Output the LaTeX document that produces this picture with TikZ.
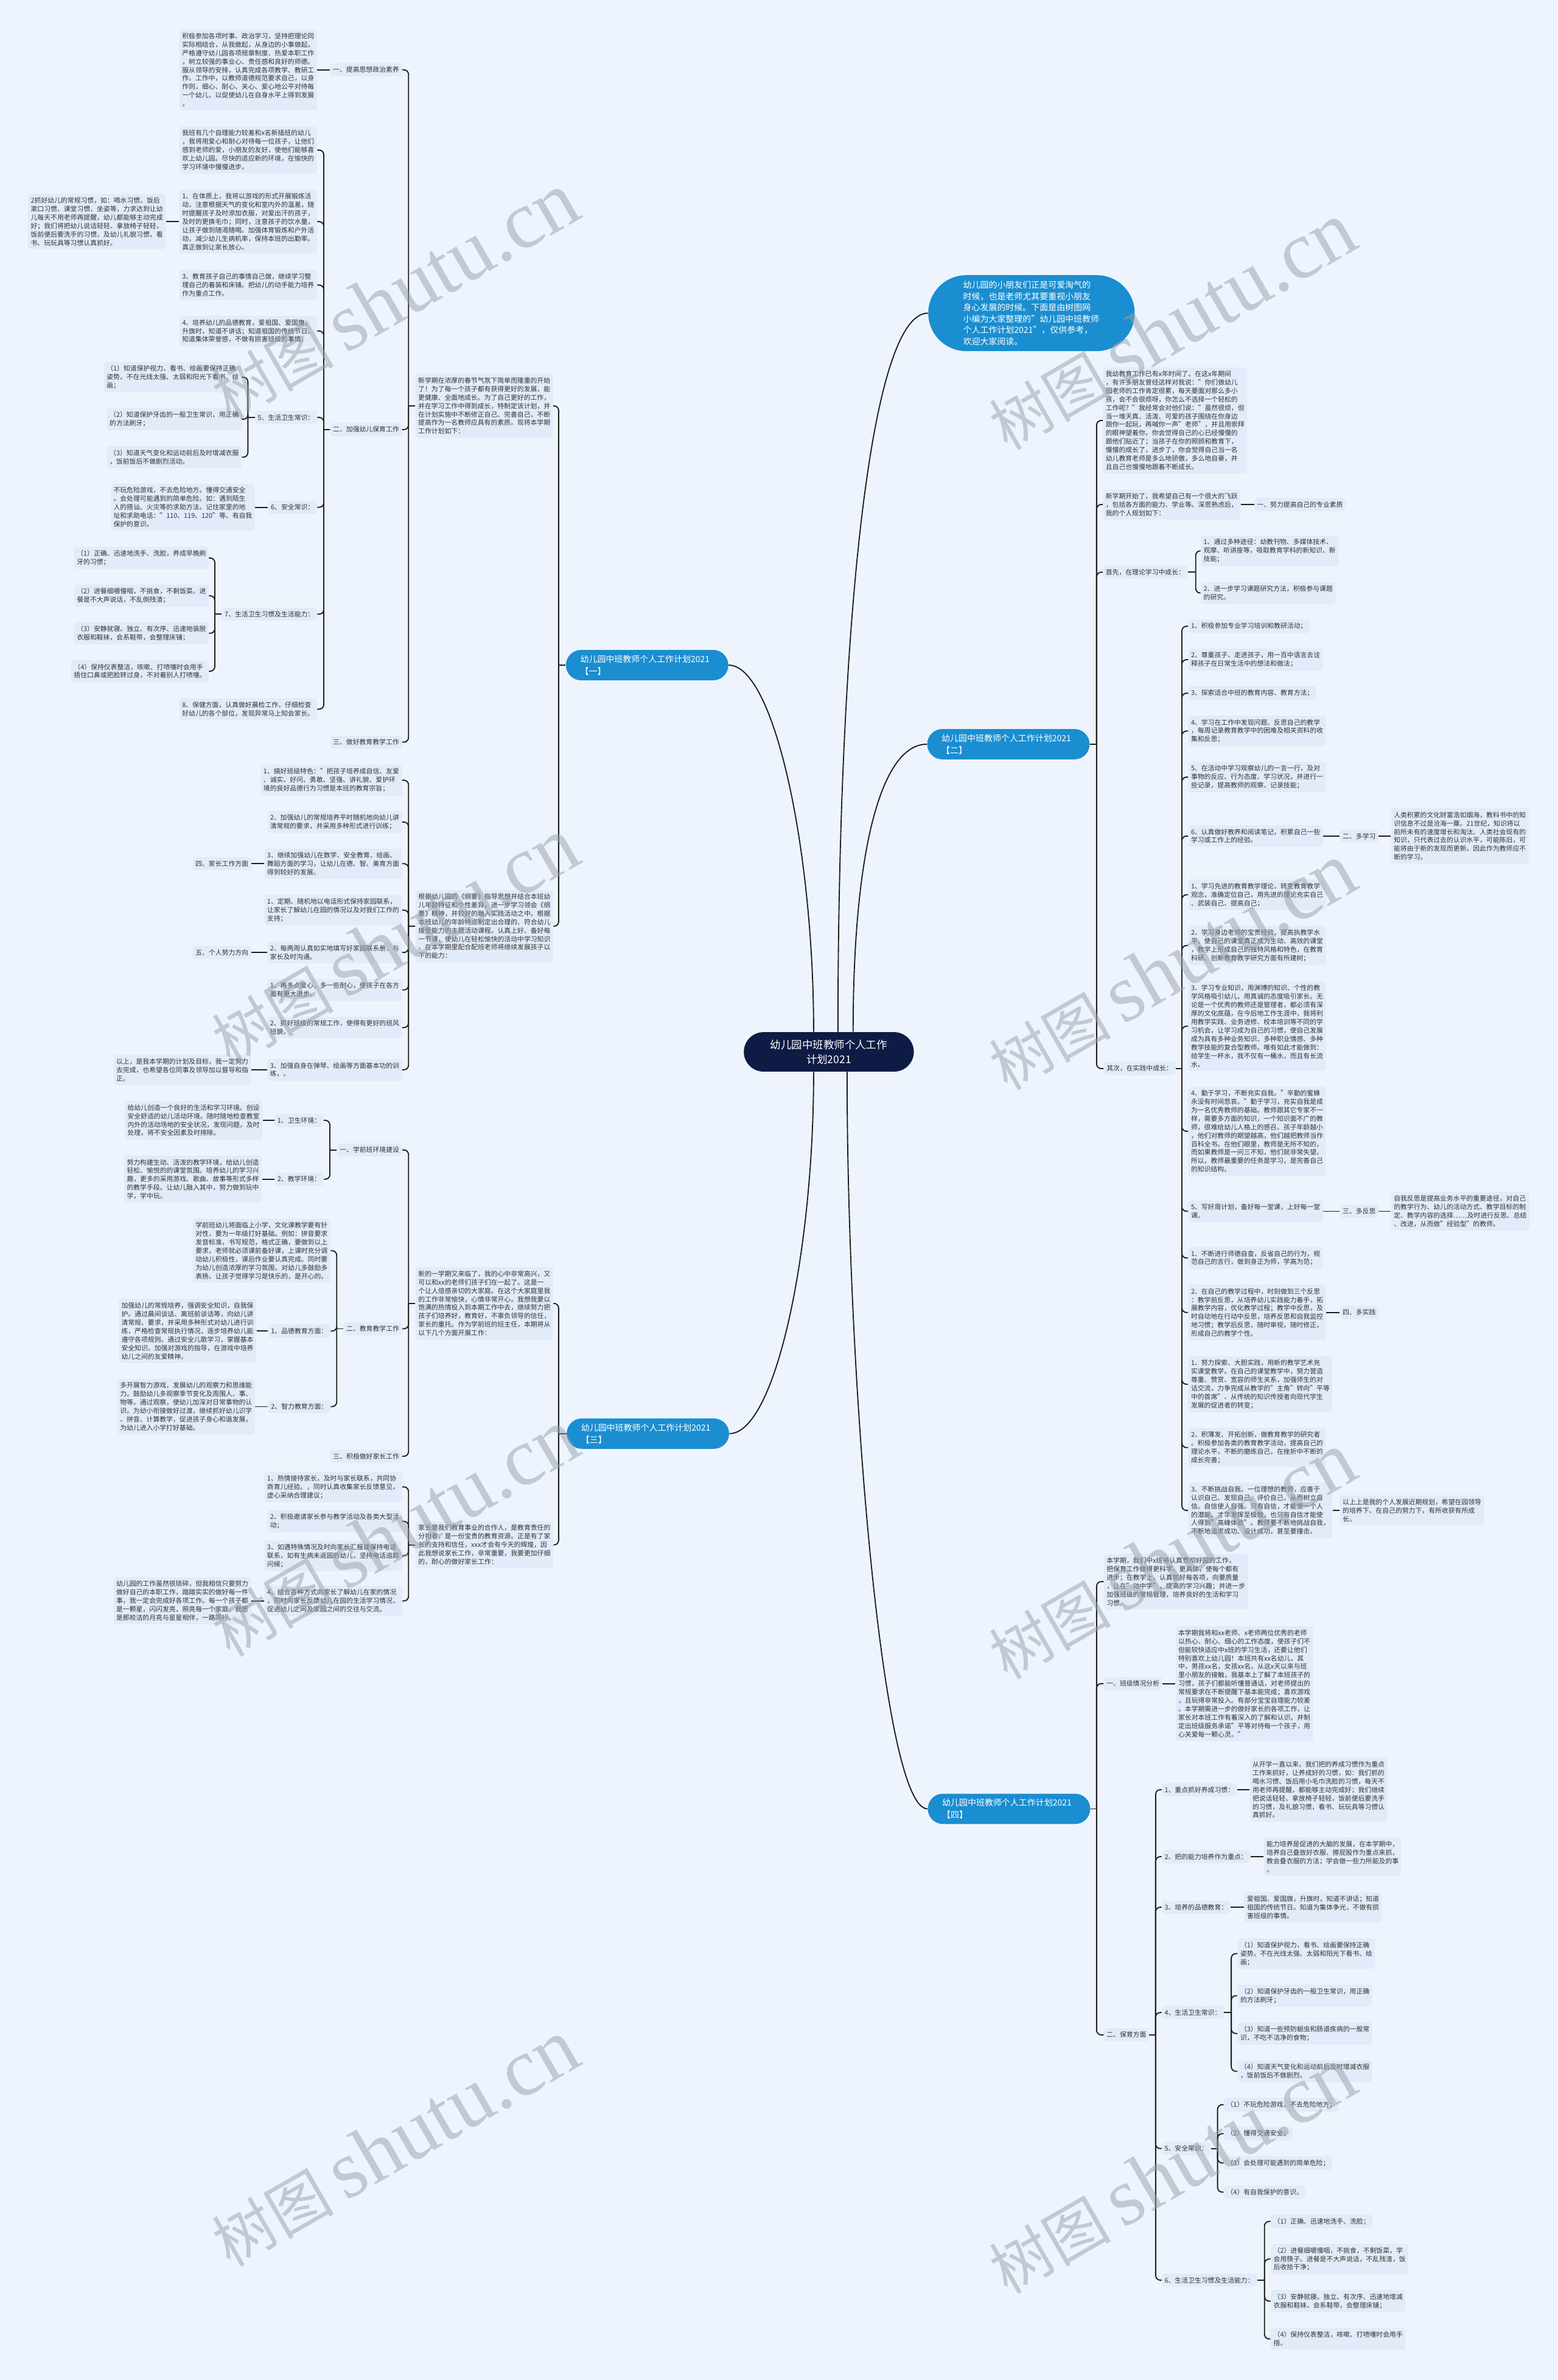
\documentclass[tikz,border=0pt]{standalone}
\usepackage{fontspec}
\setmainfont{Noto Sans CJK SC}
\newfontfamily\wmserif{Liberation Serif}
\usetikzlibrary{calc}
\definecolor{bgc}{HTML}{EEF4FD}
\definecolor{boxc}{HTML}{E2EBF9}
\definecolor{txtc}{HTML}{333333}
\definecolor{linec}{HTML}{1E1E1E}
\definecolor{bluec}{HTML}{1A8ED0}
\definecolor{navyc}{HTML}{0E1B45}
\definecolor{wmc}{HTML}{9AA0AA}
\newcommand\conL[3]{%
 \draw[conn] let \p1=(#1.west) in (\p1) -- (#2pt,\y1);
 \draw[conn,rounded corners=3pt] let \p1=(#1.west), \p2=(#3.east) in (#2pt,\y1) |- (\p2);}
\newcommand\conR[3]{%
 \draw[conn] let \p1=(#1.east) in (\p1) -- (#2pt,\y1);
 \draw[conn,rounded corners=3pt] let \p1=(#1.east), \p2=(#3.west) in (#2pt,\y1) |- (\p2);}
\begin{document}
\begin{tikzpicture}[x=1pt,y=-1pt,
 leaf/.style={fill=boxc, rounded corners=1.8pt, inner xsep=1.8pt, inner ysep=2.3pt, font=\fontsize{4.35}{5.58}\selectfont, text=txtc, align=left},
 L/.style={leaf, anchor=east},
 R/.style={leaf, anchor=west},
 conn/.style={draw=linec, line width=0.75pt},
 br/.style={fill=bluec, text=white, rounded corners=10pt, font=\fontsize{5.6}{8}\selectfont, text width=88pt, align=left, inner xsep=9.5pt, inner ysep=0pt, minimum height=20pt},
 ctrs/.style={fill=navyc, text=white, rounded corners=13pt, font=\fontsize{7}{9.5}\selectfont, align=center, minimum width=112pt, minimum height=26pt, inner sep=2pt},
 intro/.style={fill=bluec, text=white, rounded corners=25pt, font=\fontsize{5.6}{7.42}\selectfont, text width=90pt, align=left, inner xsep=23pt, minimum height=50pt},
 wm/.style={text=wmc, opacity=0.5, rotate=30, inner sep=0pt}
]
\fill[bgc] (0,0) rectangle (1026,1568);
\useasboundingbox (0,0) rectangle (1026,1568);

% ---------- centre and branches ----------
\node[ctrs] (ctr) at (546,693) {幼儿园中班教师个人工作\\计划2021};
\node[intro] (intro) at (679.5,206.3) {幼儿园的小朋友们正是可爱淘气的\\时候，也是老师尤其要重视小朋友\\身心发展的时候。下面是由树图网\\小编为大家整理的"幼儿园中班教师\\个人工作计划2021"，仅供参考，\\欢迎大家阅读。};
\node[br] (br1) at (426.3,438.2) {幼儿园中班教师个人工作计划2021\\【一】};
\node[br] (br2) at (664.3,490.3) {幼儿园中班教师个人工作计划2021\\【二】};
\node[br] (br3) at (426.8,944.5) {幼儿园中班教师个人工作计划2021\\【三】};
\node[br] (br4) at (664.7,1191.7) {幼儿园中班教师个人工作计划2021\\【四】};

\draw[conn] (br1.east) .. controls +(30,0) and +(0,-120) .. ([xshift=-10pt]ctr.north);
\draw[conn] (intro.west) .. controls +(-40,0) and +(0,-250) .. ([xshift=6pt]ctr.north);
\draw[conn] (br2.west) .. controls +(-30,0) and +(0,-120) .. ([xshift=16pt]ctr.north);
\draw[conn] (br3.east) .. controls +(30,0) and +(0,120) .. ([xshift=-10pt]ctr.south);
\draw[conn] (br4.west) .. controls +(-30,0) and +(0,200) .. ([xshift=12pt]ctr.south);

% ---------- branch 1 ----------
\node[L] (n1a) at (364.5,267.4) {新学期在浓厚的春节气氛下简单而隆重的开始\\了！为了每一个孩子都有获得更好的发展，能\\更健康、全面地成长。为了自己更好的工作，\\并在学习工作中得到成长，特制定该计划，并\\在计划实施中不断修正自己、完善自己，不断\\提高作为一名教师应具有的素质。现将本学期\\工作计划如下：};
\node[L] (n1b) at (364.6,610.2) {根据幼儿园的《纲要》指导思想并结合本班幼\\儿年龄特征和个性差异，进一步学习领会《纲\\要》精神，并较好的融入实践活动之中。根据\\本班幼儿的年龄特点制定出合理的、符合幼儿\\接受能力的主题活动课程。认真上好、备好每\\一节课，使幼儿在轻松愉快的活动中学习知识\\。在本学期里配合配班老师将继续发展孩子以\\下的能力：};
\node[L] (a1) at (264.9,46) {一、提高思想政治素养};
\node[L] (a1c) at (209,46) {积极参加各项时事、政治学习，坚持把理论同\\实际相结合，从我做起，从身边的小事做起，\\严格遵守幼儿园各项规章制度、热爱本职工作\\，树立较强的事业心、责任感和良好的师德。\\服从领导的安排，认真完成各项教学、教研工\\作。工作中，以教师道德规范要求自己，以身\\作则，细心、耐心、关心、爱心地公平对待每\\一个幼儿，以促使幼儿在自身水平上得到发展\\。};
\node[L] (a2) at (264.9,283) {二、加强幼儿保育工作};
\node[L] (a3) at (264.9,488.9) {三、做好教育教学工作};
\node[L] (p1) at (209,98.9) {我班有几个自理能力较差和x名新插班的幼儿\\，我将用爱心和耐心对待每一位孩子，让他们\\感到老师的爱，小朋友的友好，使他们能够喜\\欢上幼儿园。尽快的适应新的环境，在愉快的\\学习环境中慢慢进步。};
\node[L] (p2) at (209,146) {1、在体质上，我将以游戏的形式开展锻炼活\\动，注意根据天气的变化和室内外的温差，随\\时提醒孩子及时添加衣服，对爱出汗的孩子，\\及时的更换毛巾；同时，注意孩子的饮水量，\\让孩子做到随渴随喝。加强体育锻炼和户外活\\动，减少幼儿生病机率，保持本班的出勤率。\\真正做到让家长放心。};
\node[L] (p2c) at (109.3,146) {2抓好幼儿的常规习惯，如：喝水习惯、饭后\\漱口习惯、课堂习惯、坐姿等，力求达到让幼\\儿每天不用老师再提醒，幼儿都能够主动完成\\好；我们将把幼儿说话轻轻、拿放椅子轻轻，\\饭前便后要洗手的习惯，及幼儿礼貌习惯，看\\书、玩玩具等习惯认真抓好。};
\node[L] (p3) at (209,187.8) {3、教育孩子自己的事情自己做，继续学习整\\理自己的着装和床铺。把幼儿的动手能力培养\\作为重点工作。};
\node[L] (p4) at (209,218.1) {4、培养幼儿的品德教育，爱祖国、爱国旗，\\升旗时，知道不讲话；知道祖国的传统节日。\\知道集体荣誉感，不做有损害班级的事情。};
\node[L] (p5) at (209,275) {5、生活卫生常识：};
\node[L] (p51) at (159.3,248.5) {（1）知道保护视力，看书、绘画要保持正确\\姿势。不在光线太强、太弱和阳光下看书、绘\\画；};
\node[L] (p52) at (159.3,276.2) {（2）知道保护牙齿的一般卫生常识，用正确\\的方法刷牙；};
\node[L] (p53) at (159.3,301.2) {（3）知道天气变化和运动前后及时增减衣服\\，饭前饭后不做剧烈活动。};
\node[L] (p6) at (209,334.2) {6、安全常识：};
\node[L] (p6c) at (168.1,334.2) {不玩危险游戏，不去危险地方。懂得交通安全\\。会处理可能遇到的简单危险。如：遇到陌生\\人的搭讪、火灾等的求助方法。记住家里的地\\址和求助电话："110、119、120"等。有自我\\保护的意识。};
\node[L] (p7) at (209,404.6) {7、生活卫生习惯及生活能力：};
\node[L] (p71) at (137.7,367.6) {（1）正确、迅速地洗手、洗脸，养成早晚刷\\牙的习惯；};
\node[L] (p72) at (137.7,392.5) {（2）进餐细嚼慢咽，不挑食，不剩饭菜。进\\餐是不大声说话，不乱倒残渣；};
\node[L] (p73) at (137.7,417.2) {（3）安静就寝。独立、有次序、迅速地装脱\\衣服和鞋袜，会系鞋带，会整理床铺；};
\node[L] (p74) at (137.7,442.2) {（4）保持仪表整洁，咳嗽、打喷嚏时会用手\\捂住口鼻或把脸转过身，不对着别人打喷嚏。};
\node[L] (p8) at (209,467.2) {8、保健方面，认真做好晨检工作，仔细检查\\好幼儿的各个部位，发现异常马上知会家长。};
\node[L] (c1) at (265,514) {1、搞好班级特色："把孩子培养成自信、友爱\\、诚实、好问、勇敢、坚强、讲礼貌、爱护环\\境的良好品德行为习惯是本班的教育宗旨；};
\node[L] (c2) at (265,541.6) {2、加强幼儿的常规培养平时随机地向幼儿讲\\清常规的要求，并采用多种形式进行训练；};
\node[L] (c3) at (265,569) {3、继续加强幼儿在数学、安全教育、绘画、\\舞蹈方面的学习，让幼儿在德、智、美育方面\\得到较好的发展。};
\node[L] (c3c) at (165.6,569) {四、家长工作方面};
\node[L] (c4) at (265,599.6) {1、定期、随机地以电话形式保持家园联系，\\让家长了解幼儿在园的情况以及对我们工作的\\支持；};
\node[L] (c5) at (265,627.5) {2、每两周认真如实地填写好家园联系册，与\\家长及时沟通。};
\node[L] (c5c) at (165.6,627.5) {五、个人努力方向};
\node[L] (c6) at (265,652.2) {1、再多点爱心，多一些耐心，使孩子在各方\\面有更大进步。};
\node[L] (c7) at (265,677) {2、抓好班级的常规工作，使得有更好的班风\\班貌。};
\node[L] (c8) at (265,704.8) {3、加强自身在弹琴、绘画等方面基本功的训\\练，。};
\node[L] (c8c) at (165.6,704.8) {以上，是我本学期的计划及目标，我一定努力\\去完成，也希望各位同事及领导加以督导和指\\正。};

\conL{br1}{368}{n1a} \conL{br1}{368}{n1b}
\conL{n1a}{269.1}{a1} \conL{n1a}{269.1}{a2} \conL{n1a}{269.1}{a3}
\draw[conn] (a1.west) -- (a1c.east);
\foreach \k in {p1,p2,p3,p4,p5,p6,p7,p8} {\conL{a2}{213.3}{\k}}
\draw[conn] (p2.west) -- (p2c.east);
\foreach \k in {p51,p52,p53} {\conL{p5}{163.3}{\k}}
\draw[conn] (p6.west) -- (p6c.east);
\foreach \k in {p71,p72,p73,p74} {\conL{p7}{141.5}{\k}}
\foreach \k in {c1,c2,c3,c4,c5,c6,c7,c8} {\conL{n1b}{269.1}{\k}}
\draw[conn] (c3.west) -- (c3c.east);
\draw[conn] (c5.west) -- (c5c.east);
\draw[conn] (c8.west) -- (c8c.east);

% ---------- branch 3 ----------
\node[L] (n3a) at (364.6,858.7) {新的一学期又来临了，我的心中非常高兴，又\\可以和xx的老师们孩子们在一起了。这是一\\个让人倍感亲切的大家庭。在这个大家庭里我\\的工作非常愉快，心情非常开心。我想我要以\\饱满的热情投入到本期工作中去，继续努力把\\孩子们培养好，教育好，不辜负领导的信任，\\家长的重托。作为学前班的班主任，本期将从\\以下几个方面开展工作：};
\node[L] (n3b) at (364.6,1017.8) {家长是我们教育事业的合作人，是教育责任的\\分担者，是一份宝贵的教育资源。正是有了家\\长的支持和信任，xxx才会有今天的辉煌，因\\此我想说家长工作，非常重要，我要更加仔细\\的，耐心的做好家长工作：};
\node[L] (d1) at (265,757.6) {一、学前班环境建设};
\node[L] (d11) at (213.3,738.1) {1、卫生环境：};
\node[L] (d11c) at (173,738.1) {给幼儿创造一个良好的生活和学习环境。创设\\安全舒适的幼儿活动环境。随时随地检查教室\\内外的活动场地的安全状况，发现问题，及时\\处理，将不安全因素及时排除。};
\node[L] (d12) at (213.3,776.9) {2、教学环境：};
\node[L] (d12c) at (172.6,776.9) {努力构建生动、活泼的教学环境，给幼儿创造\\轻松、愉悦的的课堂氛围。培养幼儿的学习兴\\趣，更多的采用游戏、歌曲、故事等形式多样\\的教学手段。让幼儿融入其中，努力做到玩中\\学，学中玩。};
\node[L] (d2) at (265,875.4) {二、教育教学工作};
\node[L] (d21) at (217.8,824) {学前班幼儿将面临上小学，文化课教学要有针\\对性，要为一年级打好基础。例如：拼音要求\\发音标准，书写规范，格式正确，要做到以上\\要求，老师就必须课前备好课，上课时充分调\\动幼儿积极性，课后作业要认真完成。同时要\\为幼儿创造浓厚的学习氛围，对幼儿多鼓励多\\表扬，让孩子觉得学习是快乐的，是开心的。};
\node[L] (d22) at (217.8,876.9) {1、品德教育方面：};
\node[L] (d22c) at (169,876.9) {加强幼儿的常规培养，强调安全知识，自我保\\护。通过晨间谈话、离班前谈话等，向幼儿讲\\清常规、要求，并采用多种形式对幼儿进行训\\练，严格检查常规执行情况，逐步培养幼儿能\\遵守各项规则。通过安全儿歌学习，掌握基本\\安全知识。加强对游戏的指导，在游戏中培养\\幼儿之间的友爱精神。};
\node[L] (d23) at (217.8,926.7) {2、智力教育方面：};
\node[L] (d23c) at (168.1,926.7) {多开展智力游戏，发展幼儿的观察力和思维能\\力。鼓励幼儿多观察季节变化及周围人、事、\\物等。通过观察，使幼儿加深对日常事物的认\\识。为幼小衔接做好过渡，继续抓好幼儿识字\\、拼音、计算教学，促进孩子身心和谐发展，\\为幼儿进入小学打好基础。};
\node[L] (d3) at (265,959.4) {三、积极做好家长工作};
\node[L] (e1) at (265,979.6) {1、热情接待家长，及时与家长联系，共同协\\商育儿经验。，同时认真收集家长反馈意见，\\虚心采纳合理建议；};
\node[L] (e2) at (265,1002.3) {2、积极邀请家长参与教学活动及各类大型活\\动；};
\node[L] (e3) at (265,1025) {3、如遇特殊情况及时向家长汇报或保持电话\\联系，如有生病未返园的幼儿，坚持电话追踪\\问候；};
\node[L] (e4) at (265,1054.7) {4、结合各种方式向家长了解幼儿在家的情况\\，同时向家长反馈幼儿在园的生活学习情况，\\促进幼儿之间及家园之间的交往与交流。};
\node[L] (e4c) at (165.6,1054.7) {幼儿园的工作虽然很琐碎，但我相信只要努力\\做好自己的本职工作，踏踏实实的做好每一件\\事，我一定会完成好各项工作。每一个孩子都\\是一颗星，闪闪发亮，照亮每一个家庭，我愿\\是那皎洁的月亮与星星相伴，一路同行。};

\conL{br3}{368}{n3a} \conL{br3}{368}{n3b}
\conL{n3a}{269.1}{d1} \conL{n3a}{269.1}{d2} \conL{n3a}{269.1}{d3}
\conL{d1}{217.3}{d11} \conL{d1}{217.3}{d12}
\draw[conn] (d11.west) -- (d11c.east);
\draw[conn] (d12.west) -- (d12c.east);
\conL{d2}{221.8}{d21} \conL{d2}{221.8}{d22} \conL{d2}{221.8}{d23}
\draw[conn] (d22.west) -- (d22c.east);
\draw[conn] (d23.west) -- (d23c.east);
\foreach \k in {e1,e2,e3,e4} {\conL{n3b}{269.1}{\k}}
\draw[conn] (e4.west) -- (e4c.east);

% ---------- branch 2 ----------
\node[R] (f1) at (726.4,277) {我幼教育工作已有x年时间了。在这x年期间\\，有许多朋友曾经这样对我说："你们做幼儿\\园老师的工作肯定很累，每天要面对那么多小\\孩，会不会很烦呀，你怎么不选择一个轻松的\\工作呢？"我经常会对他们说："虽然很烦，但\\当一堆天真、活泼、可爱的孩子围绕在你身边\\跟你一起玩，再喊你一声"老师"，并且用崇拜\\的眼神望着你，你会觉得自己的心已经慢慢的\\跟他们贴近了；当孩子在你的照顾和教育下，\\慢慢的成长了，进步了，你会觉得自己当一名\\幼儿教育老师是多么地骄傲，多么地自豪，并\\且自己也慢慢地跟着不断成长。};
\node[R] (f2) at (726.4,332.4) {新学期开始了，我希望自己有一个很大的飞跃\\，包括各方面的能力、学业等。深思熟虑后，\\我的个人规划如下：};
\node[R] (f2c) at (826.1,332.4) {一、努力提高自己的专业素质};
\node[R] (f3) at (726.4,377) {首先，在理论学习中成长：};
\node[R] (f31) at (790.9,362.9) {1、通过多种途径：幼教刊物、多媒体技术、\\观摩、听讲座等，吸取教育学科的新知识、新\\技能；};
\node[R] (f32) at (790.9,390.7) {2、进一步学习课题研究方法，积极参与课题\\的研究。};
\node[R] (f4) at (727,704) {其次，在实践中成长：};
\node[R] (g1) at (782.6,412.6) {1、积极参加专业学习培训和教研活动；};
\node[R] (g2) at (782.6,434.6) {2、尊重孩子、走进孩子，用一百中语言去诠\\释孩子在日常生活中的想法和做法；};
\node[R] (g3) at (782.6,456.7) {3、探索适合中班的教育内容、教育方法；};
\node[R] (g4) at (782.6,481.6) {4、学习在工作中发现问题、反思自己的教学\\，每周记录教育教学中的困难及相关资料的收\\集和反思；};
\node[R] (g5) at (782.6,512) {5、在活动中学习观察幼儿的一言一行，及对\\事物的反应、行为态度、学习状况，并进行一\\些记录，提高教师的观察、记录技能；};
\node[R] (g6) at (782.6,550.8) {6、认真做好教养和阅读笔记，积累自己一些\\学习或工作上的经验。};
\node[R] (g6c) at (882.5,550.8) {二、多学习};
\node[R] (g6cc) at (916.2,550.8) {人类积累的文化财富浩如烟海，教科书中的知\\识信息不过是沧海一粟。21世纪，知识将以\\前所未有的速度增长和淘汰、人类社会现有的\\知识，只代表过去的认识水平，可能陈旧，可\\能将由于新的发现而更新。因此作为教师应不\\断的学习。};
\node[R] (g7) at (782.6,589.5) {1、学习先进的教育教学理论，转变教育教学\\观念，准确定位自己，用先进的理论充实自己\\、武装自己、提高自己；};
\node[R] (g8) at (782.6,622.9) {2、学习身边老师的宝贵经验，提高执教学水\\平，使自己的课堂真正成为生动、高效的课堂\\，教学上形成自己的独特风格和特色，在教育\\科研、创新教育教学研究方面有所建树；};
\node[R] (g9) at (782.6,676.1) {3、学习专业知识，用渊博的知识、个性的教\\学风格吸引幼儿，用真诚的态度吸引家长。无\\论是一个优秀的教师还是管理者，都必须有深\\厚的文化底蕴，在今后地工作生涯中，我将利\\用教学实践、业务进修、校本培训等不同的学\\习机会，让学习成为自己的习惯，使自己发展\\成为具有多种业务知识、多种职业情感、多种\\教学技能的复合型教师。唯有如此才能做到：\\给学生一杯水，我不仅有一桶水，而且有长流\\水。};
\node[R] (g10) at (782.6,745.3) {4、勤于学习，不断充实自我。"辛勤的蜜蜂\\永没有时间悲哀。"勤于学习，充实自我是成\\为一名优秀教师的基础。教师跟其它专家不一\\样，需要多方面的知识，一个知识面不广的教\\师，很难给幼儿人格上的感召。孩子年龄越小\\，他们对教师的期望越高，他们越把教师当作\\百科全书。在他们眼里，教师是无所不知的，\\而如果教师是一问三不知，他们就非常失望。\\所以，教师最重要的任务是学习，是完善自己\\的知识结构。};
\node[R] (g11) at (782.6,798) {5、写好周计划，备好每一堂课，上好每一堂\\课。};
\node[R] (g11c) at (882.5,798) {三、多反思};
\node[R] (g11cc) at (916.2,798) {自我反思是提高业务水平的重要途径，对自己\\的教学行为、幼儿的活动方式、教学目标的制\\定、教学内容的选择……及时进行反思、总结\\、改进，从而做"经验型"的教师。};
\node[R] (g12) at (782.6,828.8) {1、不断进行师德自查，反省自己的行为，规\\范自己的言行，做到身正为师，学高为范；};
\node[R] (g13) at (782.6,864.7) {2、在自己的教学过程中，时刻做到三个反思\\：教学前反思，从培养幼儿实践能力着手，拓\\展教学内容，优化教学过程；教学中反思，及\\时自动地在行动中反思，培养反思和自我监控\\地习惯；教学后反思，随时审视，随时修正，\\形成自己的教学个性。};
\node[R] (g13c) at (882.5,864.7) {四、多实践};
\node[R] (g14) at (782.6,912) {1、努力探索、大胆实践，用新的教学艺术充\\实课堂教学。在自己的课堂教学中，努力营造\\尊重、赞赏、宽容的师生关系，加强师生的对\\话交流，力争完成从教学的"主角"转向"平等\\中的首席"、从传统的知识传授者向现代学生\\发展的促进者的转变；};
\node[R] (g15) at (782.6,953.7) {2、积薄发、开拓创新，做教育教学的研究者\\。积极参加各类的教育教学活动，提高自己的\\理论水平，不断的磨练自己，在挫折中不断的\\成长完善；};
\node[R] (g16) at (782.6,995.1) {3、不断挑战自我。一位理想的教师，应善于\\认识自己、发现自己、评价自己，从而树立自\\信。自信使人自强。只有自信，才能使一个人\\的潜能、才华发挥至极致，也只有自信才能使\\人得到"高峰体验"。教师要不断地挑战自我，\\不断地追求成功、设计成功，甚至要撞击。};
\node[R] (g16c) at (882.5,995.1) {以上上是我的个人发展近期规划，希望在园领导\\的培养下、在自己的努力下，有所收获有所成\\长。};

\foreach \k in {f1,f2,f3,f4} {\conR{br2}{722.4}{\k}}
\draw[conn] (f2.east) -- (f2c.west);
\conR{f3}{787.7}{f31} \conR{f3}{787.7}{f32}
\foreach \k in {g1,g2,g3,g4,g5,g6,g7,g8,g9,g10,g11,g12,g13,g14,g15,g16} {\conR{f4}{778.6}{\k}}
\draw[conn] (g6.east) -- (g6c.west);
\draw[conn] (g6c.east) -- (g6cc.west);
\draw[conn] (g11.east) -- (g11c.west);
\draw[conn] (g11c.east) -- (g11cc.west);
\draw[conn] (g13.east) -- (g13c.west);
\draw[conn] (g16.east) -- (g16c.west);

% ---------- branch 4 ----------
\node[R] (h1) at (727,1042) {本学期，我们中x班将认真贯彻好园的工作，\\把保育工作做得更科学、更具体，使每个都有\\进步；在教学上，认真抓好每各项，向要质量\\，让在"动中学"，提高的学习兴趣；并进一步\\加强班级的常规管理，培养良好的生活和学习\\习惯。};
\node[R] (h2) at (727,1109.2) {一、班级情况分析};
\node[R] (h2c) at (774.2,1109.2) {本学期我将和xx老师、x老师两位优秀的老师\\以热心、耐心、细心的工作态度，使孩子们不\\但能较快适应中x班的学习生活，还要让他们\\特别喜欢上幼儿园！本班共有xx名幼儿，其\\中，男孩xx名，女孩xx名。从这x天以来与班\\里小朋友的接触，我基本上了解了本班孩子的\\习惯，孩子们都能听懂普通话，对老师提出的\\常规要求在不断提醒下基本能完成；喜欢游戏\\，且玩得非常投入。有部分宝宝自理能力较差\\。本学期需进一步的做好家长的各项工作，让\\家长对本班工作有着深入的了解和认识。并制\\定出班级服务承诺"平等对待每一个孩子，用\\心关爱每一颗心灵。"};
\node[R] (h3) at (727,1340.6) {二、保育方面};
\node[R] (i1) at (765.2,1179.1) {1、重点抓好养成习惯：};
\node[R] (i1c) at (823.1,1179.1) {从开学一直以来，我们把的养成习惯作为重点\\工作来抓好，让养成好的习惯，如：我们抓的\\喝水习惯、饭后用小毛巾洗脸的习惯，每天不\\用老师再提醒，都能够主动完成好；我们继续\\把说话轻轻、拿放椅子轻轻，饭前便后要洗手\\的习惯，及礼貌习惯，看书、玩玩具等习惯认\\真抓好。};
\node[R] (i2) at (765.2,1223.2) {2、把的能力培养作为重点：};
\node[R] (i2c) at (832.4,1223.2) {能力培养是促进的大脑的发展，在本学期中，\\培养自己叠放好衣服、擦屁股作为重点来抓，\\教会叠衣服的方法；学会做一些力所能及的事\\。};
\node[R] (i3) at (765.2,1256.5) {3、培养的品德教育：};
\node[R] (i3c) at (819.5,1256.5) {爱祖国、爱国旗，升旗时，知道不讲话；知道\\祖国的传统节日。知道为集体争光，不做有损\\害班级的事情。};
\node[R] (i4) at (765.2,1325.9) {4、生活卫生常识：};
\node[R] (i41) at (815.1,1287.1) {（1）知道保护视力，看书、绘画要保持正确\\姿势。不在光线太强、太弱和阳光下看书、绘\\画；};
\node[R] (i42) at (815.1,1314.8) {（2）知道保护牙齿的一般卫生常识，用正确\\的方法刷牙；};
\node[R] (i43) at (815.1,1339.7) {（3）知道一些预防蛔虫和肠道疾病的一般常\\识，不吃不洁净的食物；};
\node[R] (i44) at (815.1,1364.6) {（4）知道天气变化和运动前后及时增减衣服\\，饭前饭后不做剧烈。};
\node[R] (i5) at (765.2,1415.5) {5、安全常识：};
\node[R] (i51) at (806.1,1386.6) {（1）不玩危险游戏，不去危险地方；};
\node[R] (i52) at (806.1,1405.7) {（2）懂得交通安全；};
\node[R] (i53) at (806.1,1425) {（3）会处理可能遇到的简单危险；};
\node[R] (i54) at (806.1,1444.2) {（4）有自我保护的意识。};
\node[R] (i6) at (765.2,1502.2) {6、生活卫生习惯及生活能力：};
\node[R] (i61) at (837,1463.5) {（1）正确、迅速地洗手、洗脸；};
\node[R] (i62) at (837,1488.3) {（2）进餐细嚼慢咽，不挑食，不剩饭菜，学\\会用筷子。进餐是不大声说话，不乱残渣，饭\\后收拾干净；};
\node[R] (i63) at (837,1516) {（3）安静就寝。独立、有次序、迅速地增减\\衣服和鞋袜，会系鞋带，会整理床铺；};
\node[R] (i64) at (837,1540.9) {（4）保持仪表整洁，咳嗽、打喷嚏时会用手\\捂。};

\foreach \k in {h1,h2,h3} {\conR{br4}{722.4}{\k}}
\draw[conn] (h2.east) -- (h2c.west);
\foreach \k in {i1,i2,i3,i4,i5,i6} {\conR{h3}{761.3}{\k}}
\draw[conn] (i1.east) -- (i1c.west);
\draw[conn] (i2.east) -- (i2c.west);
\draw[conn] (i3.east) -- (i3c.west);
\foreach \k in {i41,i42,i43,i44} {\conR{i4}{811.1}{\k}}
\foreach \k in {i51,i52,i53,i54} {\conR{i5}{802.1}{\k}}
\foreach \k in {i61,i62,i63,i64} {\conR{i6}{833}{\k}}

% ---------- watermarks ----------
\foreach \x/\y [count=\i] in {260/195, 772/215, 260/620, 772/637, 260/1010, 772/1025, 260/1412, 772/1430}
  {\node[wm] (wm\i) at (\x,\y) {{\fontsize{40}{40}\selectfont 树图}\hspace{8pt}{\wmserif\fontsize{54}{54}\selectfont shutu.cn}};}
\end{tikzpicture}
\end{document}
